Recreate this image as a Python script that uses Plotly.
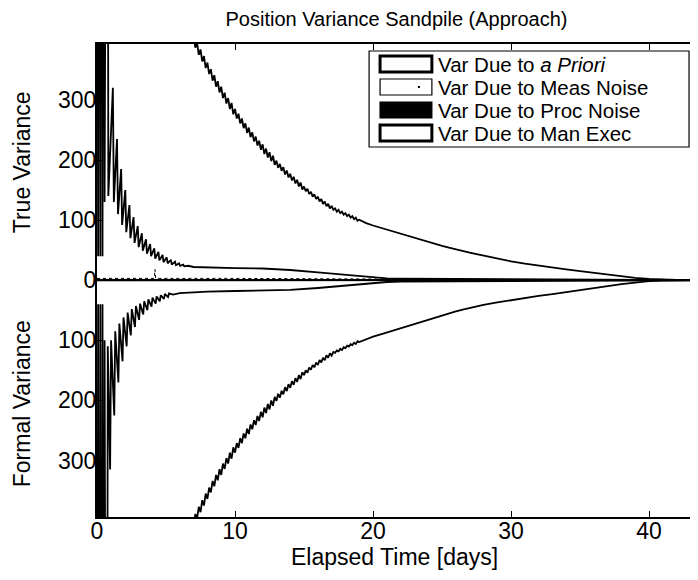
import plotly.graph_objects as go

# ---------------- data ----------------
# Outer boundary of the sandpile (total incl. maneuver execution): sawtooth part
teeth_days = [7.0, 7.125, 7.25, 7.375, 7.5, 7.625, 7.75, 7.875, 8.0, 8.125,
              8.25, 8.375, 8.5, 8.625, 8.75, 8.875, 9.0, 9.125, 9.25, 9.375,
              9.5, 9.625, 9.75, 9.875, 10.0, 10.125, 10.25, 10.375, 10.5, 10.625,
              10.75, 10.875, 11.0, 11.125, 11.25, 11.375, 11.5, 11.625, 11.75, 11.875,
              12.0, 12.125, 12.25, 12.375, 12.5, 12.625, 12.75, 12.875, 13.0, 13.125,
              13.25, 13.375, 13.5, 13.625, 13.75, 13.875, 14.0, 14.125, 14.25, 14.375,
              14.5, 14.625, 14.75, 14.875, 15.0, 15.125, 15.25, 15.375, 15.5, 15.625,
              15.75, 15.875, 16.0, 16.125, 16.25, 16.375, 16.5, 16.625, 16.75, 16.875,
              17.0, 17.125, 17.25, 17.375, 17.5, 17.625, 17.75, 17.875, 18.0, 18.125,
              18.25, 18.375, 18.5, 18.625, 18.75, 18.875, 19.0]
tail_days = [19.5, 20, 20.5, 21, 21.5, 22, 22.5, 23, 23.5, 24, 24.5, 25, 25.5, 26,
             26.5, 27, 27.5, 28, 29, 30, 31, 32, 33, 34, 35, 36, 37, 38, 39, 40,
             41, 42, 43.4]

outer_true_teeth = [407, 387, 395, 375, 384, 364, 373, 353, 362, 343,
                    351, 332, 341, 322, 331, 312.5, 322, 303, 312, 294,
                    303, 285, 295, 276, 285, 269, 277, 261, 269, 253,
                    261, 245, 254, 238, 246, 231, 239, 224, 232, 217,
                    226, 210, 219, 204, 213, 198, 207, 192, 199, 187,
                    193.5, 182, 188, 176, 182.5, 171, 177, 166, 172, 161,
                    167, 156, 162.5, 151, 156, 148, 152, 143.5, 147, 139,
                    143, 135, 139, 131, 135, 127, 131, 123, 127, 119.5,
                    123.5, 117, 119.5, 114, 117, 111.5, 114, 109, 111.5, 106.5,
                    109, 104, 106.5, 101.5, 104, 99, 100.5]
outer_true_tail = [95, 91, 87.5, 84, 80.5, 77, 73.5, 70, 66.5, 63, 60, 57, 54, 51,
                   48.5, 46, 43.5, 41, 36, 31.5, 27.5, 24, 21, 18, 15, 12, 9.5,
                   6.5, 4, 2, 1, 0.5, 0]

outer_formal_teeth = [-409, -389, -397, -377, -386, -366, -375, -355, -364, -345,
                      -353, -334, -343, -324, -333, -314.5, -324, -305, -314, -296,
                      -305, -287, -297, -278, -287, -271, -279, -263, -271, -255,
                      -263, -247, -256, -240, -248, -233, -241, -226, -234, -219,
                      -228, -212, -221, -206, -215, -200, -209, -194, -201, -189,
                      -195.5, -184, -190, -178, -184.5, -173, -179, -168, -174, -163,
                      -169, -158, -164.5, -153, -158, -150, -154, -145.5, -149, -141,
                      -145, -137, -141, -133, -137, -129, -133, -125, -129, -121.5,
                      -125.5, -119.5, -121, -117, -118.5, -114, -116, -111.5, -113, -109,
                      -110.5, -106.5, -108, -104, -106, -101.5, -103]
outer_formal_tail = [-98, -94, -90.5, -87, -83.5, -80, -76, -72, -68.5, -65, -61.5,
                     -58, -55, -52, -49, -46, -43.5, -41, -37, -33, -29, -26, -23,
                     -20, -17, -13, -10, -6.5, -3.5, -1.5, -0.5, -0.2, 0]

# Inner boundary (a priori part of the pile), true side
inner_true_days = [0.0, 0.08, 0.16, 0.24, 0.32, 0.40, 0.48, 0.55, 0.75, 0.82,
                   1.15, 1.22, 1.45, 1.52, 1.75, 1.82, 2.05, 2.12, 2.35, 2.42,
                   2.65, 2.72, 2.95, 3.02, 3.25, 3.32, 3.55, 3.62, 3.85, 3.92,
                   4.15, 4.22, 4.45, 4.52, 4.75, 4.82, 5.05, 5.12, 5.35, 5.42,
                   5.65, 5.72, 5.95, 6.02, 6.25, 6.32, 6.6, 7, 8, 10,
                   12, 14, 16, 18, 20, 21, 22, 25, 30, 35,
                   40, 43.4]
inner_true = [1500, 40, 1500, 40, 1500, 40, 1500, 130, 1500, 140,
              320, 130, 235, 110, 185, 92, 150, 80, 125, 70,
              105, 62, 90, 55, 78, 49, 68, 44, 60, 40,
              53, 36, 47, 33, 42, 30, 38, 28, 34, 26,
              31, 25, 28, 24, 26, 23, 24, 22, 21, 20,
              19.5, 17, 13, 9, 5, 3, 2.5, 2, 1.5, 1,
              0.5, 0]

# Inner boundary, formal side
inner_formal_days = [0.0, 0.08, 0.16, 0.24, 0.32, 0.40, 0.48, 0.55, 0.70, 0.78,
                     0.95, 1.02, 1.25, 1.32, 1.55, 1.62, 1.85, 1.92, 2.15, 2.22,
                     2.45, 2.52, 2.75, 2.82, 3.05, 3.12, 3.35, 3.42, 3.65, 3.72,
                     3.95, 4.02, 4.25, 4.32, 4.55, 4.62, 4.85, 4.92, 5.15, 5.22,
                     5.5, 6, 7, 8, 10, 12, 14, 16, 18, 20,
                     21, 22, 25, 30, 35, 40, 43.4]
inner_formal = [-1500, -40, -1500, -40, -1500, -40, -1500, -100, -1500, -110,
                -315, -100, -225, -85, -170, -72, -135, -62, -110, -54,
                -92, -48, -78, -43, -66, -39, -57, -35, -50, -32,
                -44, -29, -39, -27, -35, -25, -31, -23, -28, -22,
                -24, -21.5, -20, -19, -18, -17.5, -16, -13, -9, -5,
                -3, -2.5, -2, -1.5, -1, -0.5, 0]

# Thin layers near zero (process noise, measurement noise)
band_days = [0, 5, 10, 15, 20, 25, 30, 35, 40, 43.4]
proc_true = [1.5, 1.5, 1.5, 1.4, 1.2, 1.0, 0.8, 0.5, 0.2, 0]
proc_formal = [-1.5, -1.5, -1.5, -1.4, -1.2, -1.0, -0.8, -0.5, -0.2, 0]
meas_days = [0, 4.15, 4.2, 4.25, 10, 20, 25, 43.4]
meas_true = [3, 3, 18, 3, 3, 2.5, 1.5, 0]

legend_names = ["Var Due to <i>a Priori</i>", "Var Due to Meas Noise",
                "Var Due to Proc Noise", "Var Due to Man Exec"]
x_ticks = [0, 10, 20, 30, 40]
y_ticks = [-300, -200, -100, 0, 100, 200, 300]
y_ticktext = ["300", "200", "100", "0", "100", "200", "300"]

# ---------------- figure ----------------
FONT = "Liberation Sans, Arial, Helvetica, sans-serif"
# page body has an 8 px margin: figure pixel = screen pixel - 8
FW, FH = 690, 572
L, R, T, B = 89, 690, 36, 509          # plot area in figure pixels
REF_L, REF_B, REF_W, REF_H = 97, 517, 601, 473   # same plot area in screen pixels


def px(xs):
    """screen x pixel -> paper x"""
    return (xs - REF_L) / REF_W


def py(ys):
    """screen y pixel -> paper y"""
    return (REF_B - ys) / REF_H


fig = go.Figure()
LW = 1.8

fig.add_trace(go.Scatter(x=band_days, y=proc_true, mode="lines", fill="tozeroy",
                         fillcolor="black", line=dict(color="black", width=0.5),
                         name="Var Due to Proc Noise", showlegend=False))
fig.add_trace(go.Scatter(x=band_days, y=proc_formal, mode="lines", fill="tozeroy",
                         fillcolor="black", line=dict(color="black", width=0.5),
                         name="Var Due to Proc Noise", showlegend=False))
fig.add_trace(go.Scatter(x=meas_days, y=meas_true, mode="lines",
                         line=dict(color="black", width=1, dash="dot"),
                         name="Var Due to Meas Noise", showlegend=False))
fig.add_trace(go.Scatter(x=inner_true_days, y=inner_true, mode="lines",
                         line=dict(color="black", width=LW),
                         name="Var Due to a Priori", showlegend=False))
fig.add_trace(go.Scatter(x=inner_formal_days, y=inner_formal, mode="lines",
                         line=dict(color="black", width=LW),
                         name="Var Due to a Priori", showlegend=False))
fig.add_trace(go.Scatter(x=teeth_days + tail_days, y=outer_true_teeth + outer_true_tail,
                         mode="lines", line=dict(color="black", width=LW),
                         name="Var Due to Man Exec", showlegend=False))
fig.add_trace(go.Scatter(x=teeth_days + tail_days, y=outer_formal_teeth + outer_formal_tail,
                         mode="lines", line=dict(color="black", width=LW),
                         name="Var Due to Man Exec", showlegend=False))

# ---- legend (boxed, MATLAB style) ----
rows = [64, 87, 110, 133]
shapes = [dict(type="rect", xref="paper", yref="paper", x0=px(370), x1=px(691),
               y0=py(147), y1=py(51), line=dict(color="black", width=1.2),
               fillcolor="white", layer="above")]
sym_styles = [dict(fill="white", lw=3), dict(fill="white", lw=1.2),
              dict(fill="black", lw=1.2), dict(fill="white", lw=3)]
annotations = []
for name, yc, st in zip(legend_names, rows, sym_styles):
    shapes.append(dict(type="rect", xref="paper", yref="paper", x0=px(381), x1=px(433),
                       y0=py(yc + 8), y1=py(yc - 8), line=dict(color="black", width=st["lw"]),
                       fillcolor=st["fill"], layer="above"))
    annotations.append(dict(text=name, xref="paper", yref="paper", x=px(437), y=py(yc),
                            xanchor="left", yanchor="middle", showarrow=False,
                            font=dict(family=FONT, size=20.5, color="black")))
shapes.append(dict(type="rect", xref="paper", yref="paper", x0=px(419), x1=px(421),
                   y0=py(88), y1=py(86), line=dict(width=0), fillcolor="black", layer="above"))

# y-axis titles (true above zero, formal below) and x-axis title
annotations.append(dict(text="True Variance", xref="paper", yref="paper", x=px(22), y=py(162),
                        xanchor="center", yanchor="middle", textangle=-90, showarrow=False,
                        font=dict(family=FONT, size=23, color="black")))
annotations.append(dict(text="Formal Variance", xref="paper", yref="paper", x=px(22), y=py(404),
                        xanchor="center", yanchor="middle", textangle=-90, showarrow=False,
                        font=dict(family=FONT, size=23, color="black")))
annotations.append(dict(text="Elapsed Time [days]", xref="paper", yref="paper", x=px(395),
                        y=py(557), xanchor="center", yanchor="middle", showarrow=False,
                        font=dict(family=FONT, size=23, color="black")))

fig.update_layout(
    width=FW, height=FH,
    margin=dict(l=L, r=FW - R, t=T, b=FH - B, pad=0),
    paper_bgcolor="white", plot_bgcolor="white",
    font=dict(family=FONT, color="black"),
    title=dict(text="Position Variance Sandpile (Approach)", x=0.5, xref="paper",
               y=1 - 11 / FH, yref="container", yanchor="middle",
               font=dict(family=FONT, size=20, color="black")),
    showlegend=False,
    shapes=shapes,
    annotations=annotations,
    xaxis=dict(range=[0, 43.4], tickvals=x_ticks, ticks="inside", ticklen=6,
               tickwidth=1.2, tickcolor="black", showline=True, linewidth=2,
               linecolor="black", mirror="ticks", showgrid=False, zeroline=False,
               ticklabelstandoff=-8,
               tickfont=dict(family=FONT, size=23, color="black")),
    yaxis=dict(range=[-394, 393], tickvals=y_ticks, ticktext=y_ticktext,
               ticks="inside", ticklen=6, tickwidth=1.2, tickcolor="black",
               showline=True, linewidth=2, linecolor="black", mirror="ticks",
               showgrid=False, zeroline=True, zerolinecolor="black", zerolinewidth=1.5,
               ticklabelstandoff=-6,
               tickfont=dict(family=FONT, size=23, color="black")),
)

fig.write_html("out.html")
